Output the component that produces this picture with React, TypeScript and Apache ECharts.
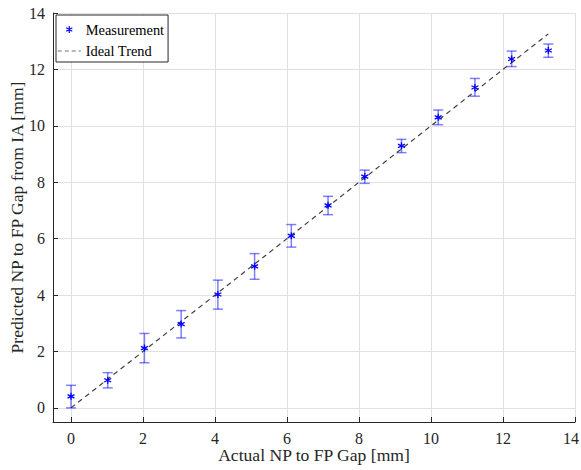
import React, { useEffect, useRef } from "react";
import * as echarts from "echarts";

// ---- data ----
const actualGap = [0, 1.02, 2.04, 3.06, 4.08, 5.1, 6.12, 7.14, 8.16, 9.18, 10.2, 11.22, 12.24, 13.26];
const predictedGap = [0.41, 0.98, 2.12, 2.97, 4.02, 5.02, 6.1, 7.18, 8.2, 9.29, 10.3, 11.36, 12.37, 12.67];
const errLower = [0.0, 0.71, 1.6, 2.48, 3.5, 4.56, 5.7, 6.85, 7.96, 9.05, 10.04, 11.05, 12.1, 12.43];
const errUpper = [0.8, 1.25, 2.64, 3.45, 4.53, 5.47, 6.5, 7.5, 8.43, 9.52, 10.56, 11.68, 12.65, 12.9];
const idealX = [0, 13.26];
const idealY = [0, 13.26];
const xTickValues = [0, 2, 4, 6, 8, 10, 12, 14];
const yTickValues = [0, 2, 4, 6, 8, 10, 12, 14];

const FONT = "'Liberation Serif', 'Times New Roman', serif";
const AXIS_COLOR = "#262626";
const GRID_COLOR = "#e0e0e0";
const BLUE = "#0000ff";
const ASTERISK = "path://M0,-10L0,10M-8.66,-5L8.66,5M-8.66,5L8.66,-5";
const ASTERISK_LEGEND = "path://M-20,-20M20,20M0,-10L0,10M-8.66,-5L8.66,5M-8.66,5L8.66,-5";

export default function App() {
  const ref = useRef<HTMLDivElement | null>(null);

  useEffect(() => {
    if (!ref.current) return;
    const chart = echarts.init(ref.current, undefined, { renderer: "svg" });

    const scatterData = actualGap.map((x, i) => [x, predictedGap[i]]);
    const errData = actualGap.map((x, i) => [x, errLower[i], errUpper[i]]);
    const lineData = idealX.map((x, i) => [x, idealY[i]]);

    const axisCommon = (ticks: number[], isX: boolean) => ({
      type: "value" as const,
      min: -0.5,
      max: 14,
      splitNumber: 7,
      minInterval: 2,
      maxInterval: 2,
      axisLine: { show: true, onZero: false, lineStyle: { color: AXIS_COLOR, width: 1 } },
      axisTick: { show: true, inside: true, length: 5, lineStyle: { color: AXIS_COLOR } },
      axisLabel: {
        color: AXIS_COLOR,
        fontFamily: FONT,
        fontSize: 16,
        margin: 8,
        formatter: (v: number) => {
          if (ticks.indexOf(v) < 0) return "";
          if (isX && v === ticks[ticks.length - 1]) return "{r|" + v + "}";
          return String(v);
        },
        rich: {
          r: { color: AXIS_COLOR, fontFamily: FONT, fontSize: 16, padding: [0, 8, 0, 0] },
        },
      },
      splitLine: { show: true, lineStyle: { color: GRID_COLOR, width: 1 } },
      nameLocation: "middle" as const,
      nameMoveOverlap: false,
      nameTextStyle: { color: AXIS_COLOR, fontFamily: FONT, fontSize: 17.6 },
    });

    chart.setOption({
      animation: false,
      backgroundColor: "#ffffff",
      textStyle: { fontFamily: FONT },
      grid: { left: 53, right: 6, top: 13, bottom: 48, containLabel: false, outerBoundsMode: "none" },
      xAxis: { ...axisCommon(xTickValues, true), name: "Actual NP to FP Gap [mm]", nameGap: 24 },
      yAxis: { ...axisCommon(yTickValues, false), name: "Predicted NP to FP Gap from IA [mm]", nameGap: 27 },
      legend: {
        left: 56,
        top: 15,
        orient: "vertical",
        backgroundColor: "#ffffff",
        borderColor: AXIS_COLOR,
        borderWidth: 1,
        borderRadius: 0,
        padding: [5, 4, 4, 1],
        itemGap: 5,
        itemWidth: 23,
        itemHeight: 14,
        textStyle: { color: "#000000", fontFamily: FONT, fontSize: 14.4, lineHeight: 14 },
        data: [
          { name: "Measurement", icon: ASTERISK_LEGEND, itemStyle: { color: "none", borderColor: BLUE, borderWidth: 1.2 } },
          {
            name: "Ideal Trend",
            itemStyle: { color: "transparent", borderColor: "transparent", borderWidth: 0 },
            lineStyle: { color: "#a0a0a0", width: 1.5, type: [4, 3] },
          },
        ],
      },
      series: [
        {
          name: "Ideal Trend",
          type: "line",
          data: lineData,
          symbol: "none",
          z: 2,
          lineStyle: { color: "#404040", width: 1.2, type: [5, 4] },
        },
        {
          name: "Error",
          type: "custom",
          data: errData,
          z: 3,
          renderItem: (params: any, api: any) => {
            const x = api.value(0);
            const top = api.coord([x, api.value(2)]);
            const bot = api.coord([x, api.value(1)]);
            const hw = 5;
            const style = { stroke: "rgba(0,0,255,0.5)", lineWidth: 1.5, fill: "none" };
            return {
              type: "group",
              children: [
                { type: "line", shape: { x1: top[0], y1: top[1], x2: bot[0], y2: bot[1] }, style },
                { type: "line", shape: { x1: top[0] - hw, y1: top[1], x2: top[0] + hw, y2: top[1] }, style },
                { type: "line", shape: { x1: bot[0] - hw, y1: bot[1], x2: bot[0] + hw, y2: bot[1] }, style },
              ],
            };
          },
        },
        {
          name: "Measurement",
          type: "scatter",
          data: scatterData,
          symbol: ASTERISK,
          symbolSize: 7,
          z: 4,
          itemStyle: { color: "none", borderColor: BLUE, borderWidth: 1.3, opacity: 1 },
        },
      ],
    });

    return () => {
      chart.dispose();
    };
  }, []);

  return (
    <div
      ref={ref}
      style={{ position: "absolute", left: 0, top: 0, width: 581, height: 470, background: "#ffffff" }}
    />
  );
}
